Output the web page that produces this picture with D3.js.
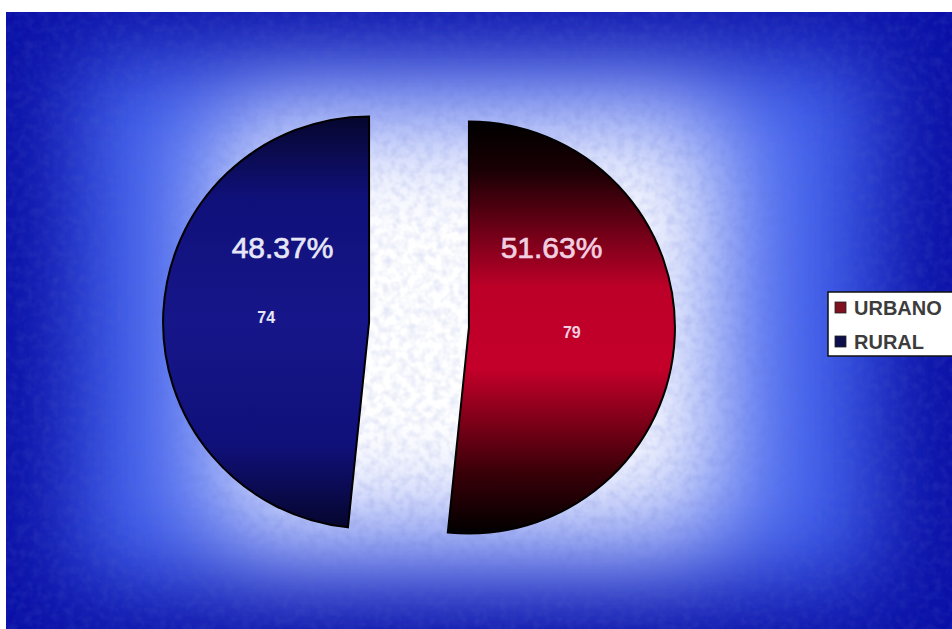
<!DOCTYPE html>
<html>
<head>
<meta charset="utf-8">
<script src="https://cdn.jsdelivr.net/npm/d3@7"></script>
<style>
  html, body { margin: 0; padding: 0; background: #ffffff; }
  svg { display: block; }
</style>
</head>
<body>
<svg id="chart" width="952" height="629"></svg>
<script>
// Data
const categories = ["URBANO", "RURAL"];
const counts = [79, 74];
const percentLabels = ["51.63%", "48.37%"];

// Layout
const W = 952, H = 629;
const cx = 419, cy = 325, R = 206, explode = 50;

const svg = d3.select("#chart");
const defs = svg.append("defs");

// fondo azul con brillo blanco rectangular
function blurFilter(id, sd) {
  defs.append("filter").attr("id", id)
    .attr("x", "-50%").attr("y", "-50%").attr("width", "200%").attr("height", "200%")
    .append("feGaussianBlur").attr("stdDeviation", sd);
}
blurFilter("blur1", 45);
blurFilter("blur2", 55);

// textura granulada
const noise = defs.append("filter").attr("id", "noise")
  .attr("x", 0).attr("y", 0).attr("width", "100%").attr("height", "100%");
noise.append("feTurbulence").attr("type", "fractalNoise")
  .attr("baseFrequency", 0.12).attr("numOctaves", 2).attr("seed", 3);
noise.append("feColorMatrix").attr("type", "matrix")
  .attr("values", "0 0 0 0 0.1  0 0 0 0 0.15  0 0 0 0 0.6  0 0 0 -1.6 1.0");

defs.append("clipPath").attr("id", "bgClip")
  .append("rect").attr("x", 6).attr("y", 12).attr("width", W - 6).attr("height", H - 12);

const bg = svg.append("g").attr("clip-path", "url(#bgClip)");
bg.append("rect").attr("x", 6).attr("y", 12).attr("width", W - 6).attr("height", H - 12)
  .attr("fill", "#0a10a6");
bg.append("rect").attr("x", 75).attr("y", 55).attr("width", 800).attr("height", 530)
  .attr("fill", "#4262ee").attr("filter", "url(#blur1)");
bg.append("rect").attr("x", 220).attr("y", 115).attr("width", 500).attr("height", 420)
  .attr("fill", "#ffffff").attr("filter", "url(#blur2)");
bg.append("rect").attr("x", 6).attr("y", 12).attr("width", W - 6).attr("height", H - 12)
  .attr("filter", "url(#noise)").attr("opacity", 0.2);

// gradientes de las porciones
function sliceGradient(id, stops) {
  const g = defs.append("linearGradient").attr("id", id)
    .attr("x1", 0).attr("y1", 0).attr("x2", 0).attr("y2", 1);
  stops.forEach(([o, c]) => g.append("stop").attr("offset", o).attr("stop-color", c));
}
sliceGradient("gUrbano", [[0, "#000000"], [0.12, "#1a0004"], [0.4, "#bc0028"], [0.6, "#c4002a"], [0.85, "#3a0008"], [1, "#000000"]]);
sliceGradient("gRural", [[0, "#06062e"], [0.2, "#10107a"], [0.5, "#16168a"], [0.8, "#10107a"], [1, "#06062e"]]);
const fills = ["url(#gUrbano)", "url(#gRural)"];
const textColors = ["#f2cfe0", "#e6e6f6"];

const pie = d3.pie().sort(null).value(d => d);
const arcs = pie(counts);
const arc = d3.arc().innerRadius(0).outerRadius(R);

const gPie = svg.append("g").attr("transform", `translate(${cx},${cy})`);

arcs.forEach((a, i) => {
  const mid = (a.startAngle + a.endAngle) / 2;
  const ox = explode * Math.sin(mid), oy = -explode * Math.cos(mid);
  const g = gPie.append("g").attr("transform", `translate(${ox},${oy})`);
  g.append("path").attr("d", arc(a))
    .attr("fill", fills[i])
    .attr("stroke", "#000")
    .attr("stroke-width", 2);

  // valor
  const [lx, ly] = arc.centroid(a);
  g.append("text")
    .attr("x", lx)
    .attr("y", ly)
    .attr("text-anchor", "middle")
    .attr("dominant-baseline", "central")
    .attr("font-family", "Liberation Sans, Arial, sans-serif")
    .attr("font-size", 16)
    .attr("font-weight", 700)
    .attr("fill", textColors[i])
    .text(counts[i]);

  // porcentaje (alineado a la misma altura en ambas porciones)
  const side = Math.sin(mid) > 0 ? 1 : -1;
  gPie.append("text")
    .attr("x", side * 134.5 - 2)
    .attr("y", -78)
    .attr("text-anchor", "middle")
    .attr("dominant-baseline", "central")
    .attr("font-family", "Liberation Sans, Arial, sans-serif")
    .attr("font-size", 30)
    .attr("fill", textColors[i])
    .attr("stroke", textColors[i])
    .attr("stroke-width", 0.7)
    .text(percentLabels[i]);
});

// leyenda
const legend = svg.append("g").attr("transform", "translate(828,292)");
legend.append("rect").attr("x", 0).attr("y", 0).attr("width", 126).attr("height", 64)
  .attr("fill", "#ffffff").attr("stroke", "#111").attr("stroke-width", 1.5);
const legendColors = ["#7e1020", "#0e0e4c"];
categories.forEach((c, i) => {
  const ly = 16 + i * 34;
  legend.append("rect").attr("x", 7).attr("y", ly - 6).attr("width", 11).attr("height", 11)
    .attr("fill", legendColors[i]).attr("stroke", "#222").attr("stroke-width", 0.8);
  legend.append("text").attr("x", 26).attr("y", ly)
    .attr("dominant-baseline", "central")
    .attr("font-family", "Liberation Sans, Arial, sans-serif")
    .attr("font-size", 20)
    .attr("font-weight", 700)
    .attr("fill", "#3c3c3c")
    .text(c);
});
</script>
</body>
</html>
